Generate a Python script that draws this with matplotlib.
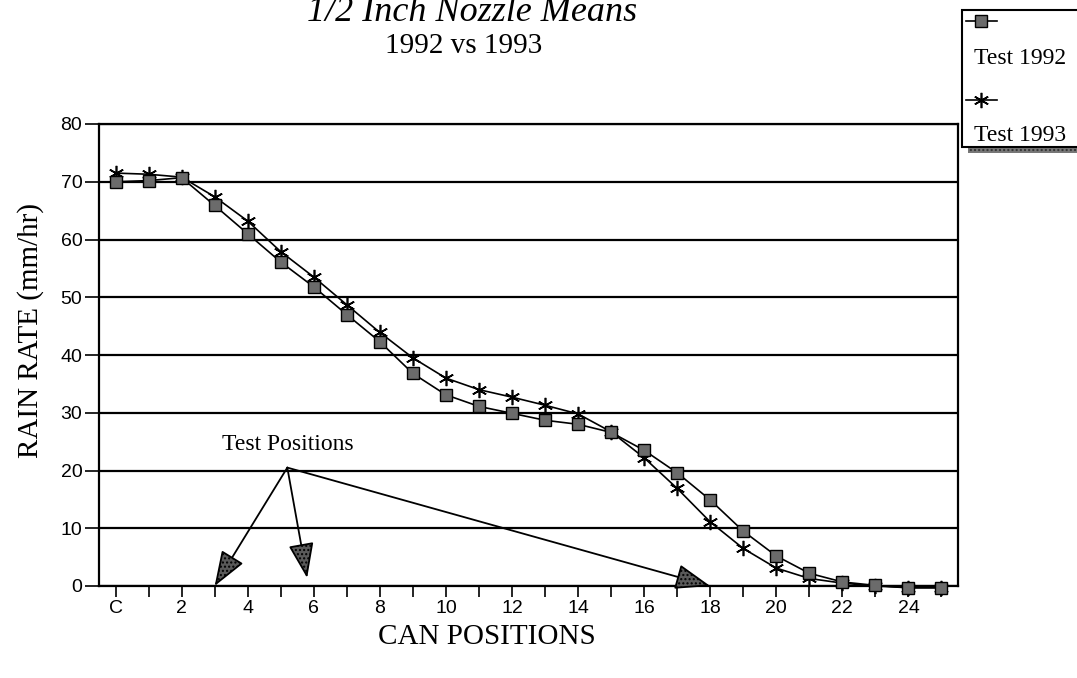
import matplotlib
matplotlib.use("Agg")
import matplotlib.pyplot as plt
from matplotlib.lines import Line2D
from matplotlib.patches import Rectangle

# Can positions: "C" is the centre can, then 1..25 outwards
positions = list(range(26))
tick_labels = ["C" if p == 0 else (str(p) if p % 2 == 0 else "") for p in positions]

# Mean rain rate (mm/hr) at each can
rate_1992 = [70.0, 70.2, 70.7, 65.9, 61.0, 56.1, 51.8, 47.0, 42.3, 36.8,
             33.1, 31.1, 29.9, 28.7, 28.0, 26.6, 23.5, 19.6, 14.9, 9.5,
             5.2, 2.2, 0.7, 0.1, -0.3, -0.3]
rate_1993 = [71.5, 71.3, 70.8, 67.4, 63.2, 57.9, 53.5, 48.7, 43.9, 39.5,
             36.0, 34.0, 32.7, 31.3, 29.8, 26.7, 22.2, 16.9, 11.1, 6.5,
             3.1, 1.3, 0.5, 0.0, -0.3, -0.3]

# Arrow annotation: label anchor and the three test can positions
note_origin = (5.2, 20.5)
test_targets = [(3.0, 0.0), (5.8, 1.4), (18.0, 0.0)]

W, H = 1077, 678
SERIF = "Liberation Serif"
SANS = "Liberation Sans"

fig = plt.figure(figsize=(W / 100, H / 100), dpi=100)
ax = fig.add_axes([99 / W, 1 - 586 / H, 859 / W, 462 / H])

line_kw = dict(color="black", lw=1.2, clip_on=False, zorder=4)
ax.plot(positions, rate_1993, marker=(6, 2, 0), ms=11, mew=1.2,
        mec="black", **line_kw)
ax.plot(positions, rate_1992, marker="s", ms=9, mfc="#6b6b6b", mec="black",
        mew=1.0, **line_kw)

ax.set_xlim(-0.5, 25.5)
ax.set_ylim(0, 80)
ax.set_xticks(positions)
ax.set_xticklabels(tick_labels)
ax.set_yticks(range(0, 81, 10))
ax.tick_params(axis="both", direction="out", color="black", width=1.2,
               labelsize=14)
ax.tick_params(axis="x", length=8, pad=2)
ax.tick_params(axis="y", length=10, pad=2)
for lbl in ax.get_xticklabels() + ax.get_yticklabels():
    lbl.set_fontfamily(SANS)

ax.yaxis.grid(True, color="black", lw=1.6)
ax.set_axisbelow(True)
for side in ax.spines.values():
    side.set_linewidth(1.6)
    side.set_color("black")

ax.set_ylabel("RAIN RATE (mm/hr)", fontfamily=SERIF, fontsize=21, va="center")
ax.yaxis.set_label_coords(-0.080, 0.552)
ax.set_xlabel("CAN POSITIONS", fontfamily=SERIF, fontsize=21, va="center")
ax.xaxis.set_label_coords(0.452, -0.110)

# "Test Positions" note with hatched arrowheads
ax.text(note_origin[0], 23.6, "Test Positions", fontfamily=SERIF,
        fontsize=17, ha="center", va="baseline", zorder=5)
for tx, ty in test_targets:
    ax.annotate("", xy=(tx, ty), xytext=note_origin,
                arrowprops=dict(arrowstyle="-|>,head_length=2.2,head_width=0.8",
                                ec="black", lw=1.3, fc="#5a5a5a",
                                hatch="....", shrinkA=0, shrinkB=0),
                zorder=5)

# Title lines
fig.text(472 / W, 1 - 21 / H, "1/2 Inch Nozzle Means", fontfamily=SERIF,
         fontsize=26, style="italic", ha="center", va="baseline")
fig.text(464 / W, 1 - 53 / H, "1992 vs 1993", fontfamily=SERIF, fontsize=21,
         ha="center", va="baseline")

# Legend box with drop shadow, handles stacked above the labels
fig.add_artist(Rectangle((968 / W, 1 - 153 / H), 120 / W, 8 / H,
                         transform=fig.transFigure, facecolor="#777777",
                         hatch="....", edgecolor="#333333", lw=0))
fig.add_artist(Rectangle((962 / W, 1 - 147 / H), 130 / W, 137 / H,
                         transform=fig.transFigure, facecolor="white",
                         edgecolor="black", lw=1.5))
legend_rows = [
    ("Test 1992", 21, 64, dict(marker="s", ms=9, mfc="#6b6b6b", mec="black", mew=1.0)),
    ("Test 1993", 100, 141, dict(marker=(6, 2, 0), ms=11, mec="black", mew=1.2)),
]
for label, y_line, y_text, mk in legend_rows:
    fig.add_artist(Line2D([966 / W, 981 / W, 997 / W], [1 - y_line / H] * 3,
                          transform=fig.transFigure, color="black", lw=1.2,
                          markevery=[1], **mk))
    fig.text(974 / W, 1 - y_text / H, label, fontfamily=SERIF, fontsize=17,
             ha="left", va="baseline")

fig.savefig("out.png", dpi=100)
